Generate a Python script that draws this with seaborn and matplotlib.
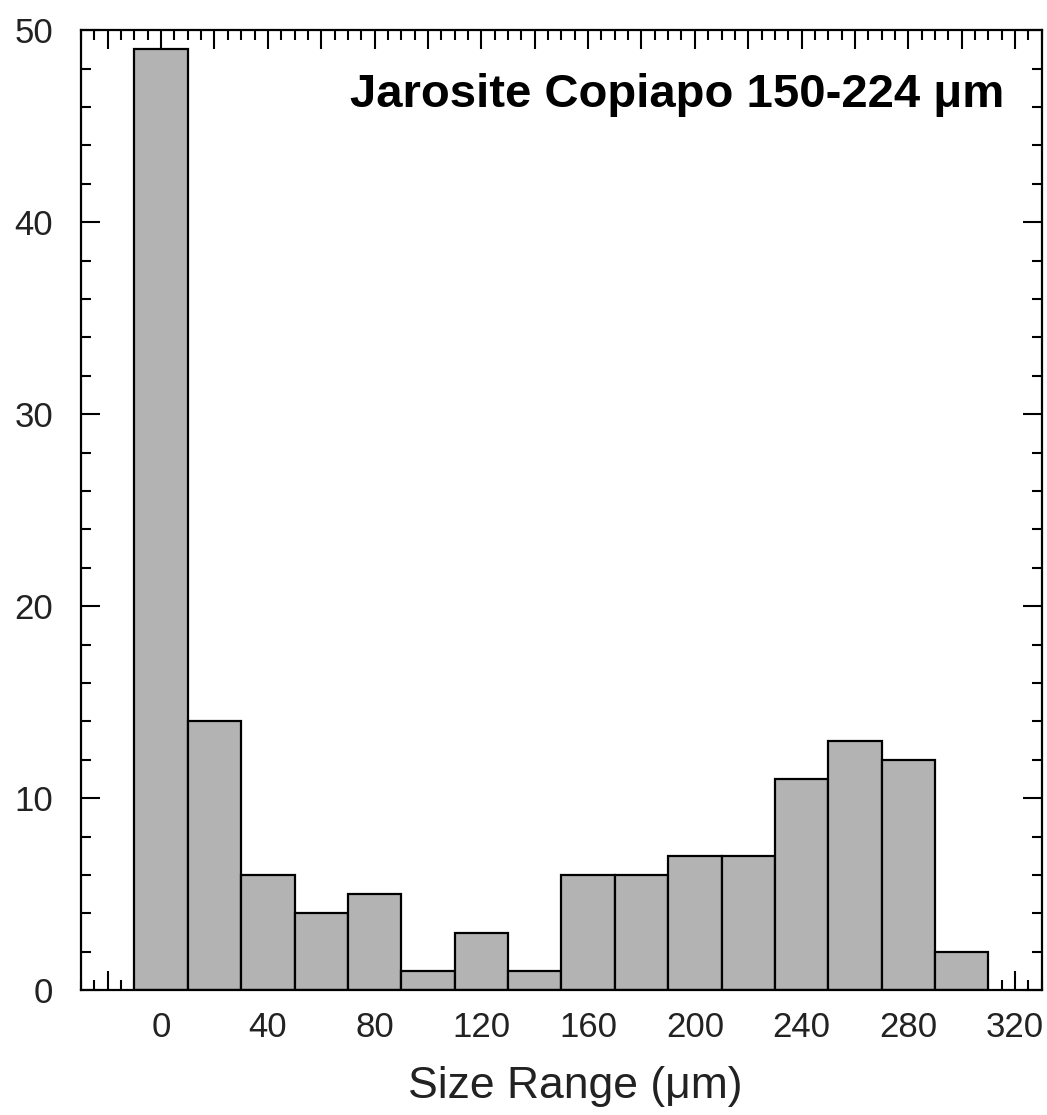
import matplotlib
matplotlib.use("Agg")
import matplotlib.pyplot as plt
from matplotlib.ticker import MultipleLocator
import seaborn as sns
import numpy as np

# Data: bin centers (µm) and counts
bin_centers = [0, 20, 40, 60, 80, 100, 120, 140, 160, 180, 200, 220, 240, 260, 280, 300]
counts = [49, 14, 6, 4, 5, 1, 3, 1, 6, 6, 7, 7, 11, 13, 12, 2]
bin_edges = [-10, 10, 30, 50, 70, 90, 110, 130, 150, 170, 190, 210, 230, 250, 270, 290, 310]
title_text = "Jarosite Copiapo 150-224 \u03bcm"
xlabel_text = "Size Range (\u03bcm)"

sns.set_style("ticks")
plt.rcParams['font.family'] = ['Liberation Sans', 'DejaVu Sans']

fig = plt.figure(figsize=(10.47, 11.15), dpi=100)
ax = fig.add_axes([0.0774, 0.112, 0.9176, 0.861])

sns.histplot(x=bin_centers, weights=counts, bins=bin_edges, ax=ax,
             color="#b3b3b3", edgecolor="black", linewidth=1.6, alpha=1.0)

ax.set_xlim(-30, 330)
ax.set_ylim(0, 50)
ax.xaxis.set_minor_locator(MultipleLocator(5))
ax.yaxis.set_major_locator(MultipleLocator(10))
ax.yaxis.set_minor_locator(MultipleLocator(2))

ticks = np.arange(-20, 331, 20)
ax.set_xticks(ticks)
ax.set_xticklabels([str(v) if v % 40 == 0 and v >= 0 else "" for v in ticks])

ax.tick_params(which='both', direction='in', top=True, right=True, color='black', width=1.5)
ax.tick_params(which='major', length=14, labelsize=25, labelcolor='#222222')
ax.tick_params(which='minor', length=7)
ax.tick_params(axis='x', which='major', pad=15)
ax.tick_params(axis='y', which='major', pad=20)

for s in ax.spines.values():
    s.set_visible(True)
    s.set_linewidth(1.6)
    s.set_color('black')

ax.set_ylabel("")
ax.set_xlabel(xlabel_text, fontsize=32, color='#222222')
ax.xaxis.set_label_coords(0.514, -0.079)
ax.text(0.961, 0.932, title_text, transform=ax.transAxes, ha='right', va='center',
        fontsize=34, fontweight='bold', color='black')

fig.savefig("out.png", dpi=100)
